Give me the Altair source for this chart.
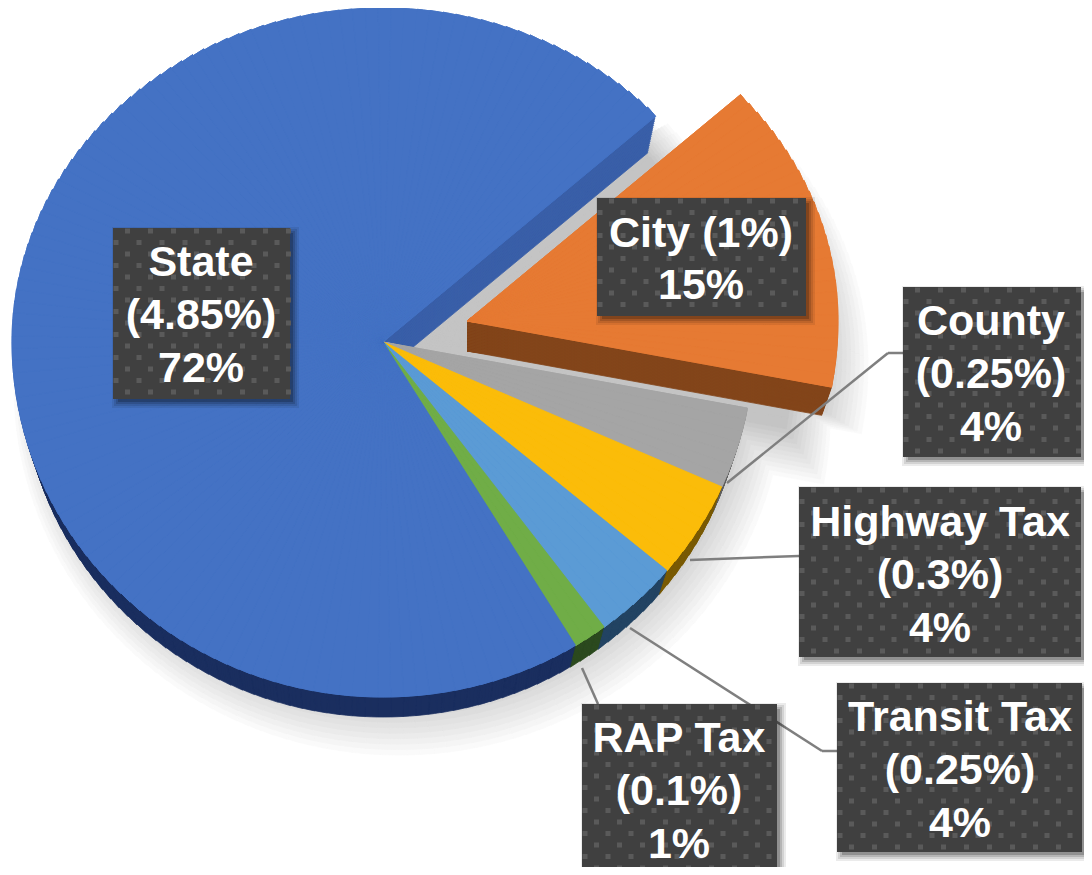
import math
import altair as alt
import pandas as pd

# ---- values
names = ["City", "County", "Highway Tax", "Transit Tax", "RAP Tax", "State"]
rates = [1.0, 0.25, 0.3, 0.25, 0.1, 4.85]
top_colors = ["#E67A33", "#A5A5A5", "#FBBC09", "#5B9BD5", "#70AD47", "#4472C4"]
side_colors = ["#83451A", "#5F5F5F", "#7A5B05", "#234463", "#2C4A1F", "#1B2F5F"]
label_lines = [
    ["City (1%)", "15%"],
    ["County", "(0.25%)", "4%"],
    ["Highway Tax", "(0.3%)", "4%"],
    ["Transit Tax", "(0.25%)", "4%"],
    ["RAP Tax", "(0.1%)", "1%"],
    ["State", "(4.85%)", "72%"],
]

# ---- layout
W, H = 1076, 859
START_DEG = 47.4
STEP_DEG = 2.0
PIE_X, PIE_Y = 383, 342
centers_x = [467, 383, 383, 383, 383, 383]
centers_y = [321, 342, 342, 342, 342, 342]
RX, RY_UP, RY_DOWN = 371, 334, 355
DEPTH, SHRINK = 30, 10
LIT = "#3A5FA8"
TEXT_NUDGE = 0.8
boxes = [
    (597, 806, 198, 316, 701, [233, 285]),
    (903, 1081, 287, 457, 991, [321, 374, 427]),
    (799, 1081, 487, 657, 940, [522, 575, 628]),
    (837, 1082, 683, 852, 960, [717, 770, 823]),
    (582, 777, 704, 875, 679, [738, 791, 844]),
    (113, 290, 228, 399, 201, [262, 315, 368]),
]
leaders = [
    (903, 353, 888, 353), (888, 353, 727, 483),
    (799, 556, 690, 560),
    (837, 751, 822, 751), (822, 751, 630, 628),
    (598, 704, 582, 668),
]

x_s = alt.Scale(domain=[8, 8 + W], range=[0, W])
y_s = alt.Scale(domain=[8, 8 + H], range=[0, H])
X = lambda f: alt.X(f, scale=x_s, axis=None)
Y = lambda f: alt.Y(f, scale=y_s, axis=None)


def ry_of(t):
    return RY_UP if math.cos(t) > 0 else RY_DOWN


def ellipse_r(t):
    return 1 / math.sqrt((math.sin(t) / RX) ** 2 + (math.cos(t) / ry_of(t)) ** 2)


def to_screen(t):
    """Angle on the tilted (elliptical) pie for a true slice angle."""
    return math.atan2(RX * math.sin(t), ry_of(t) * math.cos(t)) % (2 * math.pi)


total = sum(rates)
rows, a = [], math.radians(START_DEG)
for i, n in enumerate(names):
    b = a + rates[i] / total * 2 * math.pi
    count = max(1, round(math.degrees(b - a) / STEP_DEG))
    for j in range(count):
        s = a + (b - a) * j / count
        e = a + (b - a) * (j + 1) / count
        ss = to_screen(s)
        ee = to_screen(e)
        if ee < ss:
            ee += 2 * math.pi
        # keep the whole State slice on one continuous turn
        if i == 5 and s > 2 * math.pi:
            ss += 2 * math.pi
            ee += 2 * math.pi
        lit = n == "State" and e > b - math.radians(25)
        rows.append(dict(name=n, start=ss, end=ee, cx=centers_x[i], cy=centers_y[i],
                         r=ellipse_r((ss + ee) / 2), top=top_colors[i],
                         side=LIT if lit else side_colors[i]))
    a = b
df = pd.DataFrame(rows)


def place(data, dx=0, dy=0, dr=0, **extra):
    d = data.copy()
    d["px"] = d.cx + dx
    d["py"] = d.cy + dy
    d["pr"] = d.r + dr
    for k, v in extra.items():
        d[k] = v
    return d


def arc_layer(d, color_field):
    return alt.Chart(d).mark_arc(strokeWidth=0.8).encode(
        x=X("px:Q"), y=Y("py:Q"),
        theta=alt.Theta("start:Q", scale=None), theta2=alt.Theta2("end:Q"),
        radius=alt.Radius("pr:Q", scale=None),
        color=alt.Color(f"{color_field}:N", scale=None, legend=None),
        stroke=alt.Stroke(f"{color_field}:N", scale=None, legend=None),
    )


layers = []
# soft shadow: from wide and pale to narrow and dark
N = 12
city = df[df.name == "City"]
unexploded = city.copy()
unexploded["cx"] = PIE_X
unexploded["cy"] = PIE_Y
shadow = []
for k in range(N):
    u = k / (N - 1)
    g = round(255 - (255 - 196) * (k + 1) / N)
    shade = f"rgb({g},{g},{g})"
    dx = 16 - 10 * u
    dy = 44 - 22 * u
    dr = 14 - 38 * u
    shadow.append(place(df, dx=dx, dy=dy, dr=dr, shade=shade))
    # the City slice also shades the gap it left behind and the floor below it
    shadow.append(place(unexploded, dx=dx * 0.3, dy=dy * 0.3, dr=dr - 6, shade=shade))
    shadow.append(place(city, dx=-8, dy=dy * 2.2, dr=dr - 14, shade=shade))
layers.append(arc_layer(pd.concat(shadow), "shade"))

# walls
walls = []
steps = 20
for k in range(steps, 0, -1):
    f = k / steps
    walls.append(place(df, dy=DEPTH * f, dr=-SHRINK * f))
layers.append(arc_layer(pd.concat(walls), "side"))

# tops (two passes close the hairlines between wedges)
layers.append(arc_layer(place(df), "top"))
layers.append(arc_layer(place(df), "top"))

# leader lines
ld = pd.DataFrame(leaders, columns=["x", "y", "x2", "y2"])
layers.append(alt.Chart(ld).mark_rule(color="#7F7F7F", strokeWidth=2.5).encode(
    x=X("x:Q"), y=Y("y:Q"), x2="x2:Q", y2="y2:Q"))

# label boxes
bd = pd.DataFrame([b[:4] for b in boxes], columns=["x", "x2", "y", "y2"])
sh = bd + 4
for grow, op in ((5, 0.08), (3, 0.10), (1, 0.14), (-1, 0.2)):
    s = sh.copy()
    s["x"] -= grow; s["y"] -= grow; s["x2"] += grow; s["y2"] += grow
    layers.append(alt.Chart(s).mark_rect(color="#000000", opacity=op).encode(
        x=X("x:Q"), x2="x2:Q", y=Y("y:Q"), y2="y2:Q"))
layers.append(alt.Chart(bd).mark_rect(color="#404040").encode(
    x=X("x:Q"), x2="x2:Q", y=Y("y:Q"), y2="y2:Q"))

# dotted texture of the boxes
dots = []
for x0, x1, y0, y1, *_ in boxes:
    row = 0
    yy = y0 + 3
    while yy < y1 - 1:
        xx = x0 + (3 if row % 2 else 14.5)
        while xx < x1 - 1:
            dots.append((xx, yy))
            xx += 23
        yy += 11.5
        row += 1
layers.append(alt.Chart(pd.DataFrame(dots, columns=["x", "y"])).mark_square(
    size=25, color="#5A5A5A", opacity=1).encode(x=X("x:Q"), y=Y("y:Q")))

# label text
tx = []
for b, lines in zip(boxes, label_lines):
    for yy, t in zip(b[5], lines):
        tx.append(dict(x=b[4], y=yy + TEXT_NUDGE, t=t))
layers.append(alt.Chart(pd.DataFrame(tx)).mark_text(
    font="Liberation Sans", fontWeight="bold", fontSize=43, color="#FFFFFF",
    align="center", baseline="middle").encode(x=X("x:Q"), y=Y("y:Q"), text="t:N"))

chart = alt.layer(*layers).properties(
    width=W, height=H, padding=0, background="#FFFFFF",
    autosize=alt.AutoSizeParams(type="none")
).configure_view(stroke=None)
chart.save("out.html", embed_options={"renderer": "svg", "actions": False})
